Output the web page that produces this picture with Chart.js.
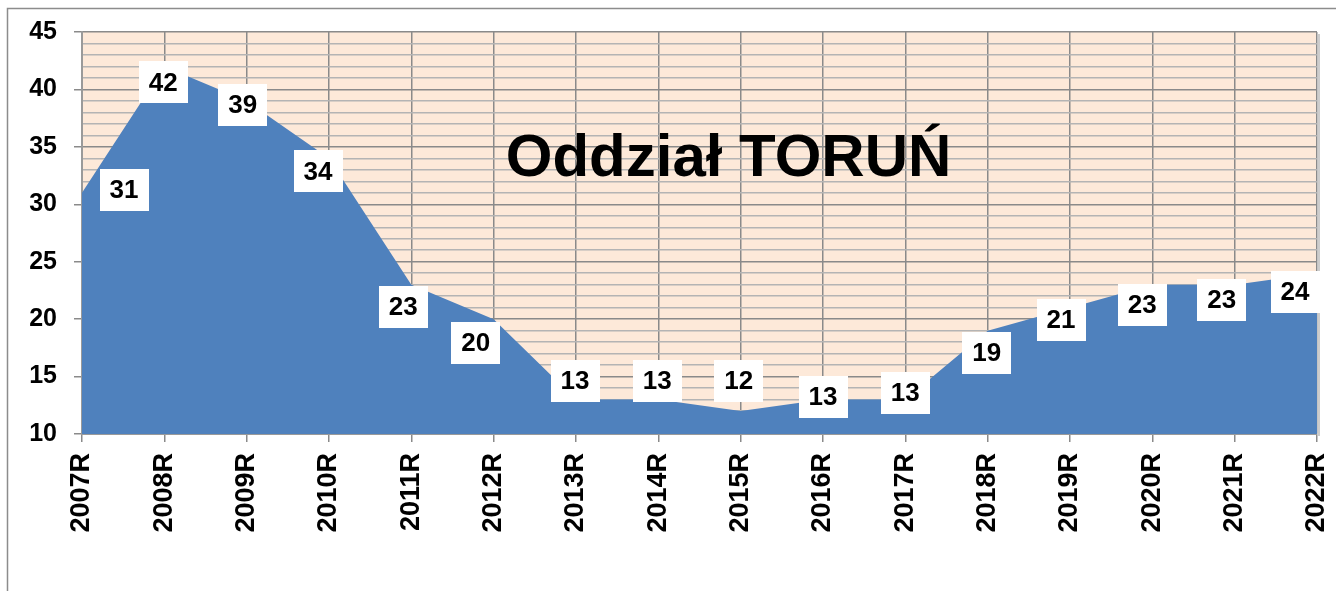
<!DOCTYPE html>
<html><head><meta charset="utf-8">
<script src="https://cdn.jsdelivr.net/npm/chart.js@4"></script>
<style>html,body{margin:0;padding:0;background:#fff;}canvas{display:block}</style>
</head><body>
<canvas id="c" width="1336" height="591"></canvas>
<script>
const categories = ['2007R','2008R','2009R','2010R','2011R','2012R','2013R','2014R','2015R','2016R','2017R','2018R','2019R','2020R','2021R','2022R'];
const values = [31,42,39,34,23,20,13,13,12,13,13,19,21,23,23,24];
const yMin = 10, yMax = 45, yMajorStep = 5, yMinorStep = 1;
const chartTitle = 'Oddział TORUŃ';
// label offsets (px) relative to each point, as placed in the original
const labelOffsets = [[42,-3],[-1,16],[-4,4],[-11,13],[-8,22],[-18,24],[-1,-19],[-1,-19],[-2,-30],[0,-3],[0,-7],[-1,22],[-9,12],[-10,20],[-13,15],[-22,19]];

const FONT = '"Liberation Sans", Arial, sans-serif';

const framePlugin = {
  id: 'frame',
  beforeDraw(chart) {
    const ctx = chart.ctx;
    ctx.save();
    ctx.strokeStyle = '#8c8c8c';
    ctx.lineWidth = 1.5;
    ctx.beginPath();
    ctx.moveTo(7.5, 600); ctx.lineTo(7.5, 8.5); ctx.lineTo(1340, 8.5);
    ctx.stroke();
    const a = chart.chartArea;
    ctx.fillStyle = '#FDE9D9';
    ctx.fillRect(a.left, a.top, a.right - a.left, a.bottom - a.top);
    ctx.fillStyle = '#cccccc';
    ctx.fillRect(a.right + 1, a.top + 2, 2, a.bottom - a.top);
    ctx.restore();
  }
};

const overlayPlugin = {
  id: 'overlay',
  afterDatasetsDraw(chart) {
    const ctx = chart.ctx;
    const a = chart.chartArea;
    ctx.save();
    // title
    ctx.fillStyle = '#000';
    ctx.font = 'bold 60px ' + FONT;
    ctx.textAlign = 'center';
    ctx.textBaseline = 'middle';
    ctx.fillText(chartTitle, a.left + (a.right - a.left) * 0.5235, a.top + (a.bottom - a.top) * 0.318);
    // data labels
    const meta = chart.getDatasetMeta(0);
    ctx.font = 'bold 26px ' + FONT;
    meta.data.forEach((pt, i) => {
      const off = labelOffsets[i] || [0, 0];
      const cx = pt.x + off[0], cy = pt.y + off[1];
      const w = 49, h = 42;
      ctx.fillStyle = '#ffffff';
      ctx.fillRect(Math.round(cx - w / 2), Math.round(cy - h / 2), w, h);
      ctx.fillStyle = '#000';
      ctx.fillText(String(values[i]), cx, cy + 1);
    });
    ctx.restore();
  }
};

new Chart(document.getElementById('c'), {
  type: 'line',
  data: {
    labels: categories,
    datasets: [{
      data: values,
      fill: 'start',
      backgroundColor: '#4F81BD',
      borderWidth: 0,
      borderColor: 'rgba(0,0,0,0)',
      pointRadius: 0,
      pointHoverRadius: 0,
      tension: 0
    }]
  },
  options: {
    responsive: false,
    animation: false,
    events: [],
    layout: { padding: { top: 32, right: 19, left: 0, bottom: 0 } },
    plugins: { legend: { display: false }, tooltip: { enabled: false }, title: { display: false } },
    scales: {
      x: {
        offset: false,
        grid: { color: '#8a8a8a', lineWidth: 1.5, tickLength: 8, tickColor: '#8a8a8a', drawOnChartArea: true },
        border: { color: '#9a9a9a', width: 2 },
        ticks: {
          color: '#000', font: { family: FONT, size: 27, weight: 'bold' },
          minRotation: 90, maxRotation: 90, autoSkip: false, padding: 11
        },
        afterFit(s) { s.height = 591 - 434; s.paddingLeft = 0; s.paddingRight = 0; }
      },
      y: {
        min: yMin, max: yMax,
        afterBuildTicks(s) {
          const t = [];
          for (let v = yMin; v <= yMax; v += yMinorStep) t.push({ value: v });
          s.ticks = t;
        },
        grid: {
          color: c => (c.tick && c.tick.value % yMajorStep === 0) ? '#8a8a8a' : '#b4b4b4',
          lineWidth: 1.5,
          tickLength: 8,
          tickColor: c => (c.tick && c.tick.value % yMajorStep === 0) ? '#8a8a8a' : 'rgba(0,0,0,0)'
        },
        border: { color: '#9a9a9a', width: 2 },
        ticks: {
          color: '#000', font: { family: FONT, size: 25, weight: 'bold' },
          autoSkip: false, padding: 17,
          callback: v => (v % yMajorStep === 0) ? String(v) : ''
        },
        afterFit(s) { s.width = 82; s.paddingTop = 0; s.paddingBottom = 0; }
      }
    }
  },
  plugins: [framePlugin, overlayPlugin]
});
</script>
</body></html>
